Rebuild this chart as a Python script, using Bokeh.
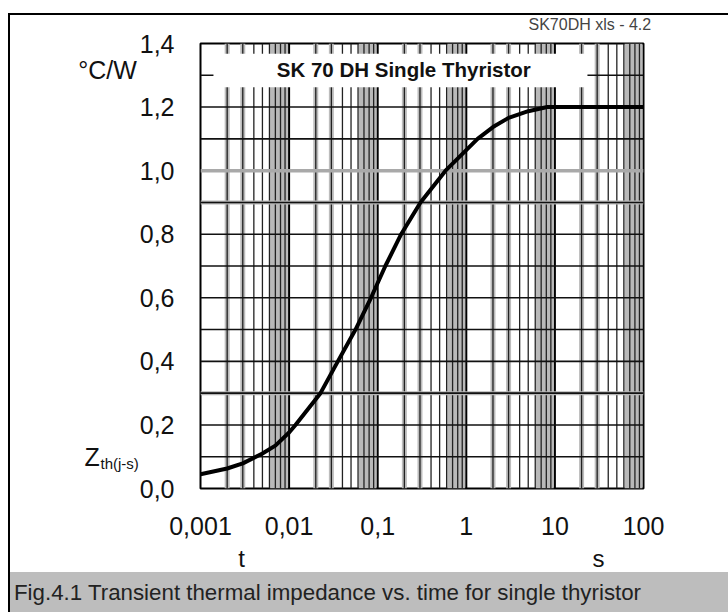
import numpy as np
from bokeh.plotting import figure
from bokeh.models import Label, Div, FixedTicker
from bokeh.layouts import column
from bokeh.embed import file_html
from bokeh.resources import INLINE

# ---------------- data ----------------
time_s = [0.001, 0.002, 0.003, 0.005, 0.007, 0.01, 0.0118, 0.0226, 0.0355, 0.0562,
          0.084, 0.122, 0.184, 0.304, 0.583, 1.34, 2.0, 3.0, 5.0, 8.2, 100.0]
zth = [0.045, 0.063, 0.079, 0.11, 0.135, 0.176, 0.2, 0.3, 0.4, 0.5,
       0.6, 0.7, 0.8, 0.9, 1.0, 1.1, 1.137, 1.166, 1.187, 1.2, 1.2]

x_ticks = [0.001, 0.01, 0.1, 1, 10, 100]
x_tick_labels = ["0,001", "0,01", "0,1", "1", "10", "100"]
y_ticks = [0.0, 0.2, 0.4, 0.6, 0.8, 1.0, 1.2, 1.4]
y_tick_labels = ["0,0", "0,2", "0,4", "0,6", "0,8", "1,0", "1,2", "1,4"]
y_grid = [0.1, 0.2, 0.3, 0.4, 0.5, 0.6, 0.7, 0.8, 0.9, 1.0, 1.1, 1.2, 1.3]

chart_title = "SK 70 DH Single Thyristor"
unit_label = "°C/W"
y_name = "Z"
y_name_sub = "th(j-s)"
x_name = "t"
x_unit = "s"
file_tag = "SK70DH xls - 4.2"
caption = "Fig.4.1 Transient thermal impedance vs. time for single thyristor"

FONT = "Liberation Sans"
X_MIN, X_MAX = 0.001, 100
Y_MIN, Y_MAX = 0.0, 1.4

# ---------------- figure ----------------
p = figure(width=718, height=557, x_axis_type="log",
           x_range=(X_MIN, X_MAX), y_range=(Y_MIN, Y_MAX),
           output_backend="svg", toolbar_location=None,
           min_border_left=190, min_border_right=85,
           min_border_top=28, min_border_bottom=84)
p.background_fill_color = "white"
p.border_fill_color = "white"
p.outline_line_color = "black"
p.outline_line_width = 2
p.xgrid.visible = False
p.ygrid.visible = False

for ax in (p.xaxis, p.yaxis):
    ax.axis_line_color = None
    ax.major_tick_line_color = None
    ax.minor_tick_line_color = None
    ax.major_label_text_font = FONT
    ax.major_label_text_font_size = "25px"
    ax.major_label_text_color = "#111111"

p.xaxis.ticker = FixedTicker(ticks=x_ticks)
p.xaxis.major_label_overrides = dict(zip(x_ticks, x_tick_labels))
p.xaxis.major_label_standoff = 22
p.yaxis.ticker = FixedTicker(ticks=y_ticks)
p.yaxis.major_label_overrides = dict(zip(y_ticks, y_tick_labels))
p.yaxis.major_label_standoff = 20

# ---------------- grid (derived from decades) ----------------
decades = x_ticks[:-1]
band_l = [d * 6.1 for d in decades]
band_r = [d * 9.7 for d in decades]
p.quad(left=band_l, right=band_r, bottom=Y_MIN, top=Y_MAX,
       fill_color="#b9b9b9", line_color=None)

halo_x = [d * m for d in decades for m in (2, 3)]
p.segment(x0=halo_x, y0=Y_MIN, x1=halo_x, y1=Y_MAX,
          line_color="#bcbcbc", line_width=5)

minor_x = [d * m for d in decades for m in range(2, 10)]
p.segment(x0=minor_x, y0=Y_MIN, x1=minor_x, y1=Y_MAX,
          line_color="#222222", line_width=1.3)
major_x = x_ticks[1:-1]
p.segment(x0=major_x, y0=Y_MIN, x1=major_x, y1=Y_MAX,
          line_color="black", line_width=2)

dark_y = [v for v in y_grid if v != 1.0]
halo_y = [0.9, 0.3]
p.segment(x0=X_MIN, y0=halo_y, x1=X_MAX, y1=halo_y,
          line_color="#b5b5b5", line_width=4)
p.segment(x0=X_MIN, y0=dark_y, x1=X_MAX, y1=dark_y,
          line_color="#111111", line_width=1.6)
p.segment(x0=X_MIN, y0=[1.0], x1=X_MAX, y1=[1.0],
          line_color="#a9a9a9", line_width=3.5)

# title box
p.quad(left=[0.0014], right=[23.3], bottom=[1.262], top=[1.368],
       fill_color="white", line_color=None)
p.add_layout(Label(x=0.197, y=1.318, text=chart_title, text_align="center",
                   text_baseline="middle", text_font=FONT, text_font_style="bold",
                   text_font_size="20.5px", text_color="#111111"))

# curve
p.line(time_s, zth, line_color="black", line_width=4, line_join="round")


# ---------------- texts outside the frame ----------------
def at_px(X, Y):
    # page pixel -> data coordinates (frame spans x 200..643, y 43..488 on the page)
    t = 10 ** (np.log10(X_MIN) + (X - 200) / (643 - 200) * np.log10(X_MAX / X_MIN))
    z = (488 - Y) / (488 - 43) * (Y_MAX - Y_MIN)
    return float(t), float(z)


def add_text(panel, X, Y, txt, size, align="left", baseline="middle", color="#111111"):
    x, y = at_px(X, Y)
    p.add_layout(Label(x=x, y=y, text=txt, text_align=align, text_baseline=baseline,
                       text_font=FONT, text_font_size=size, text_color=color), panel)


add_text("left", 107, 69, unit_label, "25px", align="center")
add_text("left", 84, 456, y_name, "25px")
add_text("left", 100, 463, y_name_sub, "15px")
add_text("right", 241, 558, x_name, "24px", align="center")
add_text("right", 598, 558, x_unit, "24px", align="center")
add_text("above", 528, 24, file_tag, "16px", color="#444444")

cap = Div(text=caption, width=718, height=40, margin=0,
          styles={"background-color": "#bdbdbd", "font-family": FONT,
                  "font-size": "22.3px", "color": "#222222",
                  "line-height": "42px", "padding-left": "4px",
                  "overflow": "hidden", "white-space": "nowrap",
                  "box-sizing": "border-box"})

layout = column(p, cap, spacing=0, margin=(13, 0, 0, 8),
                styles={"border-left": "2px solid black", "border-top": "2px solid black"})

open("out.html", "w").write(file_html(layout, INLINE))
